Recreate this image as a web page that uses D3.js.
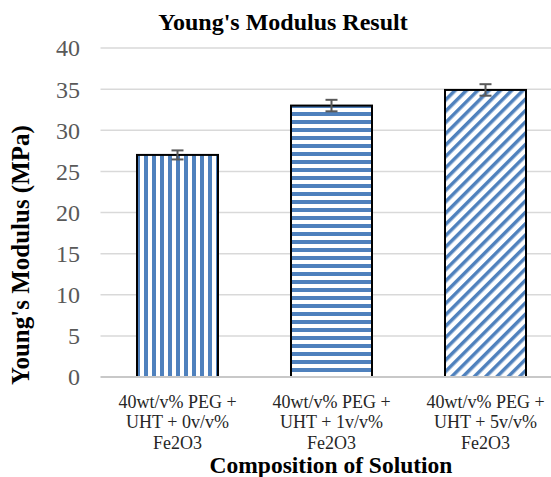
<!DOCTYPE html>
<html>
<head>
<meta charset="utf-8">
<script src="https://cdn.jsdelivr.net/npm/d3@7"></script>
<style>
  html, body { margin: 0; padding: 0; background: #fff; }
  svg { display: block; }
  svg text { font-family: "Liberation Serif", "Times New Roman", Times, "Nimbus Roman", "Tinos", "DejaVu Serif", serif; }
</style>
</head>
<body>
<svg id="chart" width="551" height="477"></svg>
<script>
const categories = [
  ["40wt/v% PEG +", "UHT + 0v/v%", "Fe2O3"],
  ["40wt/v% PEG +", "UHT + 1v/v%", "Fe2O3"],
  ["40wt/v% PEG +", "UHT + 5v/v%", "Fe2O3"]
];
const values = [27.0, 33.0, 34.9];
const errors = [0.55, 0.7, 0.7];
const patterns = ["vert", "horiz", "diag"];
const yTicks = [0, 5, 10, 15, 20, 25, 30, 35, 40];
const title = "Young's Modulus Result";
const yTitle = "Young's Modulus (MPa)";
const xTitle = "Composition of Solution";

const blue = "#4F81BD";
const svg = d3.select("#chart");

const defs = svg.append("defs");
const pv = defs.append("pattern").attr("id", "vert").attr("patternUnits", "userSpaceOnUse")
  .attr("width", 8).attr("height", 8);
pv.append("rect").attr("width", 8).attr("height", 8).attr("fill", "#fff");
pv.append("rect").attr("x", 0).attr("width", 4).attr("height", 8).attr("fill", blue);
const ph = defs.append("pattern").attr("id", "horiz").attr("patternUnits", "userSpaceOnUse")
  .attr("width", 8).attr("height", 8);
ph.append("rect").attr("width", 8).attr("height", 8).attr("fill", "#fff");
ph.append("rect").attr("y", 0).attr("width", 8).attr("height", 4).attr("fill", blue);
const pd = defs.append("pattern").attr("id", "diag").attr("patternUnits", "userSpaceOnUse")
  .attr("width", 8).attr("height", 8).attr("patternTransform", "rotate(45)");
pd.append("rect").attr("width", 8).attr("height", 8).attr("fill", "#fff");
pd.append("rect").attr("width", 3.5).attr("height", 8).attr("fill", blue);

const x0 = 100.5, x1 = 562.5, yTop = 48, yBot = 377;
const idx = categories.map((d, i) => i);
const x = d3.scaleBand().domain(idx).range([x0, x1]).paddingInner(0.474).paddingOuter(0.237);
const y = d3.scaleLinear().domain([0, 40]).range([yBot, yTop]);

svg.append("g").selectAll("line").data(yTicks.filter(t => t > 0)).join("line")
  .attr("x1", x0).attr("x2", 551)
  .attr("y1", d => y(d)).attr("y2", d => y(d))
  .attr("stroke", "#d9d9d9").attr("stroke-width", 1.5);

const yAxis = d3.axisLeft(y).tickValues(yTicks).tickSize(0).tickPadding(0).tickFormat(d3.format("d"));
const ga = svg.append("g").attr("transform", `translate(80,0)`).call(yAxis);
ga.select(".domain").remove();
ga.attr("font-family", null).attr("font-size", null);
ga.selectAll("text").attr("font-size", 24).attr("fill", "#595959").attr("dy", "0.33em");

svg.append("g").selectAll("rect").data(values).join("rect")
  .attr("x", (d, i) => x(i)).attr("width", x.bandwidth())
  .attr("y", d => y(d)).attr("height", d => y(0) - y(d))
  .attr("fill", (d, i) => `url(#${patterns[i]})`)
  .attr("stroke", "#000").attr("stroke-width", 2);

svg.append("line").attr("x1", x0).attr("x2", 551).attr("y1", y(0)).attr("y2", y(0))
  .attr("stroke", "#c8c8c8").attr("stroke-width", 2);

const eg = svg.append("g").attr("stroke", "#595959").attr("stroke-width", 2);
values.forEach((v, i) => {
  const cx = x(i) + x.bandwidth() / 2;
  eg.append("line").attr("x1", cx).attr("x2", cx).attr("y1", y(v + errors[i])).attr("y2", y(v - errors[i]));
  eg.append("line").attr("x1", cx - 6).attr("x2", cx + 6).attr("y1", y(v + errors[i])).attr("y2", y(v + errors[i]));
  eg.append("line").attr("x1", cx - 6).attr("x2", cx + 6).attr("y1", y(v - errors[i])).attr("y2", y(v - errors[i]));
});

const xl = svg.append("g");
categories.forEach((lines, i) => {
  const cx = x(i) + x.bandwidth() / 2;
  const t = xl.append("text").attr("text-anchor", "middle")
    .attr("font-size", 18).attr("fill", "#262626");
  lines.forEach((l, j) => {
    t.append("tspan").attr("x", cx).attr("y", 407.5 + j * 20.5).text(l);
  });
});

svg.append("text").attr("x", 283).attr("y", 30).attr("text-anchor", "middle")
  .attr("font-weight", "bold").attr("font-size", 24).attr("fill", "#000").text(title);
svg.append("text").attr("x", 331).attr("y", 473).attr("text-anchor", "middle")
  .attr("font-weight", "bold").attr("font-size", 23.5).attr("fill", "#000").text(xTitle);
svg.append("text").attr("transform", "translate(29,255) rotate(-90)").attr("text-anchor", "middle")
  .attr("font-weight", "bold").attr("font-size", 25).attr("fill", "#000").text(yTitle);
</script>
</body>
</html>
